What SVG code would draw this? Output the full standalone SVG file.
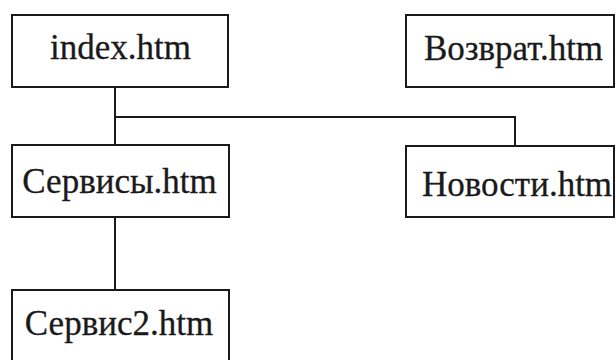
<svg xmlns="http://www.w3.org/2000/svg" width="616" height="360" viewBox="0 0 616 360">
  <style>
    .box { fill: #ffffff; stroke: #1a1a1a; stroke-width: 2; }
    .link { fill: none; stroke: #1a1a1a; stroke-width: 2; }
    text { font-family: "Liberation Serif", "Times New Roman", serif; font-size: 35px; fill: #1a1a1a; stroke: #1a1a1a; stroke-width: 0.3; text-anchor: middle; }
  </style>
  <rect width="616" height="360" fill="#ffffff"/>
  <!-- connectors -->
  <g id="connectors">
    <path class="link" d="M115 87 V145"/>
    <path class="link" d="M115 117 H515 V146"/>
    <path class="link" d="M115 217 V290"/>
  </g>
  <g id="index">
    <rect class="box" x="12" y="15" width="216" height="72"/>
    <text x="120.5" y="59">index.htm</text>
  </g>
  <g id="vozvrat">
    <rect class="box" x="406" y="15" width="208" height="72"/>
    <text x="513.5" y="60">Возврат.htm</text>
  </g>
  <g id="servisy">
    <rect class="box" x="12" y="145" width="217" height="72"/>
    <text x="119.5" y="193">Сервисы.htm</text>
  </g>
  <g id="novosti">
    <rect class="box" x="406" y="146" width="208" height="71"/>
    <text x="517" y="196">Новости.htm</text>
  </g>
  <g id="servis2">
    <rect class="box" x="12" y="290" width="217" height="80"/>
    <text x="119" y="335">Сервис2.htm</text>
  </g>
</svg>
